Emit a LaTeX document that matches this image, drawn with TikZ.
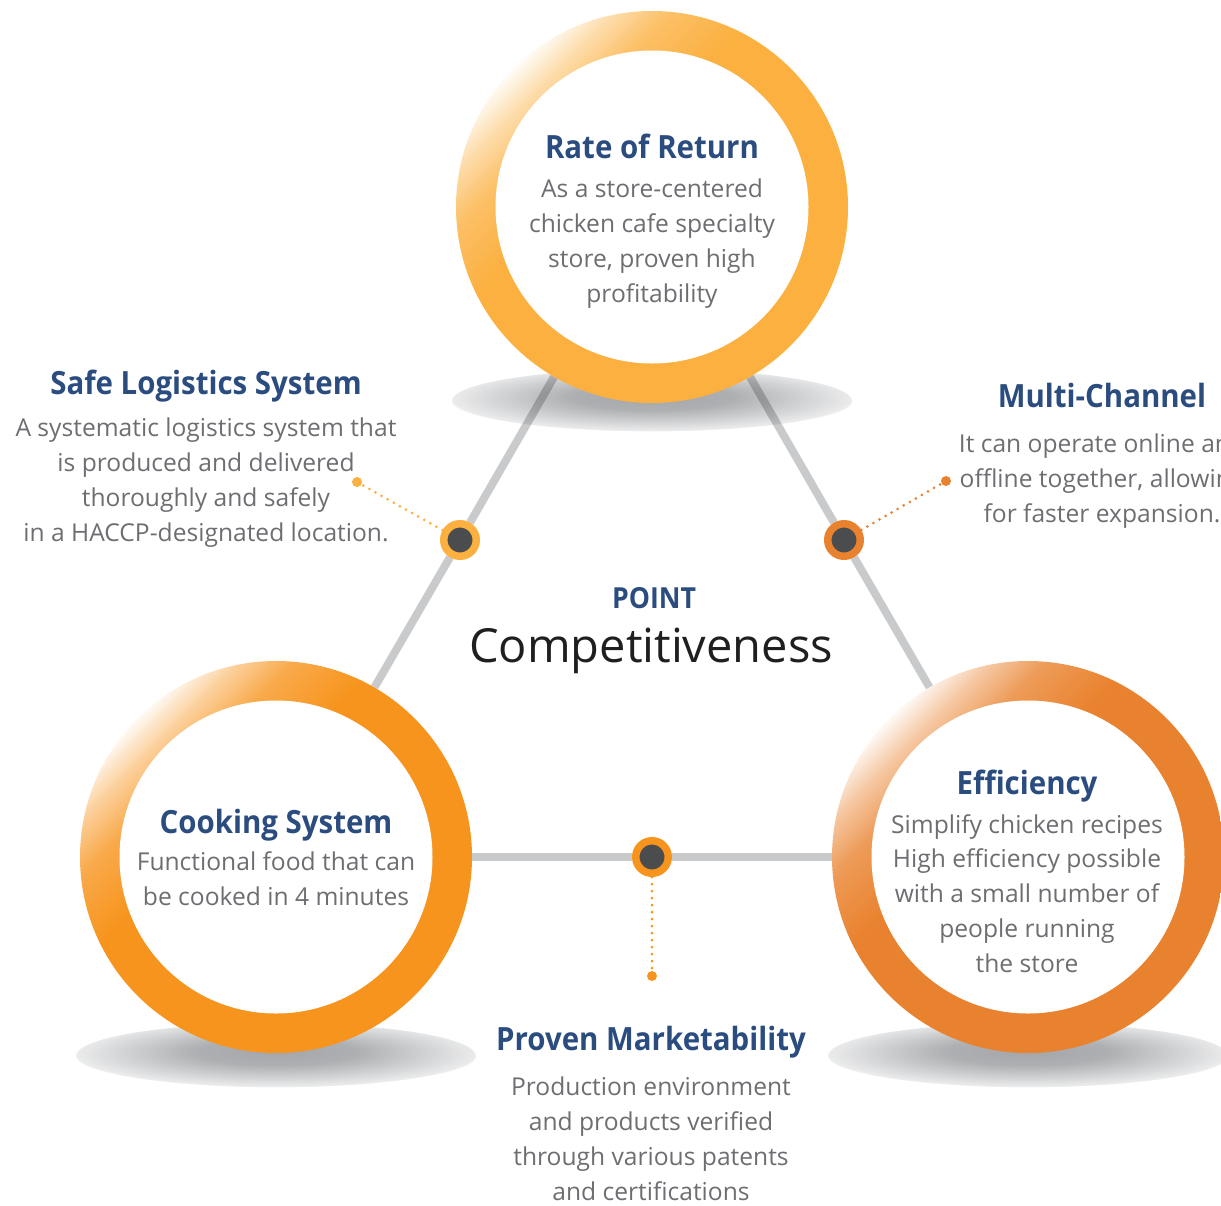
\documentclass[tikz,border=0pt]{standalone}
\usepackage{fontspec}
\setmainfont{Open Sans}
\newfontfamily\titlef{Open Sans}[FakeStretch=0.92]
\definecolor{ringA}{HTML}{FBB040}
\definecolor{ringB}{HTML}{F7941D}
\definecolor{ringC}{HTML}{E9822E}
\definecolor{titleblue}{HTML}{2B4C7E}
\definecolor{bodygray}{HTML}{6D6E71}
\definecolor{linegray}{HTML}{C9CACC}
\definecolor{dotdark}{HTML}{4B4C4E}
\definecolor{shadowgray}{HTML}{A4A6A9}
\definecolor{compblack}{HTML}{1F1F1F}
\pgfdeclarehorizontalshading{shA}{100bp}{color(0bp)=(white); color(25bp)=(ringA!6!white); color(29bp)=(ringA!45!white); color(34bp)=(ringA!80!white); color(42bp)=(ringA); color(100bp)=(ringA)}
\pgfdeclarehorizontalshading{shB}{100bp}{color(0bp)=(white); color(25bp)=(ringB!6!white); color(29bp)=(ringB!45!white); color(34bp)=(ringB!80!white); color(42bp)=(ringB); color(100bp)=(ringB)}
\pgfdeclarehorizontalshading{shC}{100bp}{color(0bp)=(white); color(25bp)=(ringC!6!white); color(29bp)=(ringC!45!white); color(34bp)=(ringC!80!white); color(42bp)=(ringC); color(100bp)=(ringC)}
\pgfdeclareradialshading{shadowsh}{\pgfpoint{0bp}{4bp}}{color(0bp)=(shadowgray); color(10bp)=(shadowgray!90!white); color(20bp)=(shadowgray!45!white); color(25bp)=(shadowgray!22!white); color(25.6bp)=(white); color(50bp)=(white)}
\pgfdeclarelayer{shadowlayer}
\pgfdeclarelayer{linelayer}
\pgfsetlayers{shadowlayer,linelayer,main}
\begin{document}
\begin{tikzpicture}[x=1pt,y=-1pt,
  ring/.style={circle, minimum size=392pt, inner sep=0pt, shading angle=-45},
  innerdisc/.style={circle, fill=white, minimum size=313pt, inner sep=0pt},
  bigdot/.style={circle, fill=dotdark, minimum size=32.5pt, inner sep=0pt, line width=7.5pt},
  enddot/.style={circle, minimum size=10pt, inner sep=0pt},
  gline/.style={draw=linegray, line width=8pt},
  dotline/.style={line width=3pt, line cap=round, dash pattern=on 0pt off 7pt},
  ttl/.style={anchor=base, inner sep=0pt, text=titleblue, font=\titlef\bfseries\fontsize{32}{38}\selectfont},
  body/.style={anchor=base, inner sep=0pt, align=center, text=bodygray, font=\fontsize{24.6}{34.7}\selectfont},
  shadowell/.style={shading=shadowsh}]
\useasboundingbox (0,0) rectangle (1221,1205);
\clip (0,0) rectangle (1221,1205);

% rings
\node[ring, shading=shA] (top) at (652,207) {};
\node[innerdisc] (topin) at (652,207) {};
\node[ring, shading=shB] (bl) at (276,857) {};
\node[innerdisc] (blin) at (276,857) {};
\node[ring, shading=shC] (br) at (1028,857) {};
\node[innerdisc] (brin) at (1028,857) {};

% shadows
\begin{pgfonlayer}{shadowlayer}
\path[shadowell] (652,401) ellipse [x radius=200pt, y radius=32pt];
\path[shadowell] (276,1056) ellipse [x radius=200pt, y radius=33pt];
\path[shadowell] (1028,1056) ellipse [x radius=200pt, y radius=33pt];
\end{pgfonlayer}

% junction dots
\node[bigdot, draw=ringA] (ldot) at (460,540) {};
\node[bigdot, draw=ringC] (rdot) at (844,540) {};
\node[bigdot, draw=ringB] (bdot) at (652,857) {};

% gray triangle
\begin{pgfonlayer}{linelayer}
\begin{scope}[blend mode=multiply]
\draw[gline] (top) -- (ldot);
\draw[gline] (ldot) -- (bl);
\draw[gline] (top) -- (rdot);
\draw[gline] (rdot) -- (br);
\draw[gline] (bl) -- (bdot);
\draw[gline] (bdot) -- (br);
\end{scope}
\end{pgfonlayer}

% dotted leaders
\node[enddot, fill=ringA] (lend) at (357,482) {};
\node[enddot, fill=ringC] (rend) at (946,481) {};
\node[enddot, fill=ringB] (bend) at (652,976) {};
\draw[dotline, draw=ringA] (ldot) -- (lend);
\draw[dotline, draw=ringC] (rdot) -- (rend);
\draw[dotline, draw=ringB] (bdot) -- (bend);

% texts (multi-line nodes: base = last line's baseline)
\node[ttl] (topT) at (652,158) {Rate of Return};
\node[body] (topB) at (652,302) {As a store-centered\\chicken cafe specialty\\store, proven high\\profitability};

\node[ttl] (slT) at (206,394) {Safe Logistics System};
\node[body] (slB) at (206,541) {A systematic logistics system that\\is produced and delivered\\thoroughly and safely\\in a HACCP-designated location.};

\node[ttl] (mcT) at (1102,407) {Multi-Channel};
\node[body] (mcB) at (1102,522) {It can operate online and\\offline together, allowing\\for faster expansion.};

\node[anchor=base, inner sep=0pt, text=titleblue, font=\titlef\bfseries\fontsize{29}{34}\selectfont] (pointT) at (654,608) {POINT};
\node[anchor=base, inner sep=0pt, text=compblack, font=\fontsize{47}{56}\selectfont] (compT) at (651,662) {Competitiveness};

\node[ttl] (csT) at (276,833) {Cooking System};
\node[body] (csB) at (276,905) {Functional food that can\\be cooked in 4 minutes};

\node[ttl] (efT) at (1027,794) {Efficiency};
\node[body] (efB) at (1027,972) {Simplify chicken recipes\\High efficiency possible\\with a small number of\\people running\\the store};

\node[ttl] (pmT) at (651,1050) {Proven Marketability};
\node[body] (pmB) at (651,1200) {Production environment\\and products verified\\through various patents\\and certifications};
\end{tikzpicture}
\end{document}
